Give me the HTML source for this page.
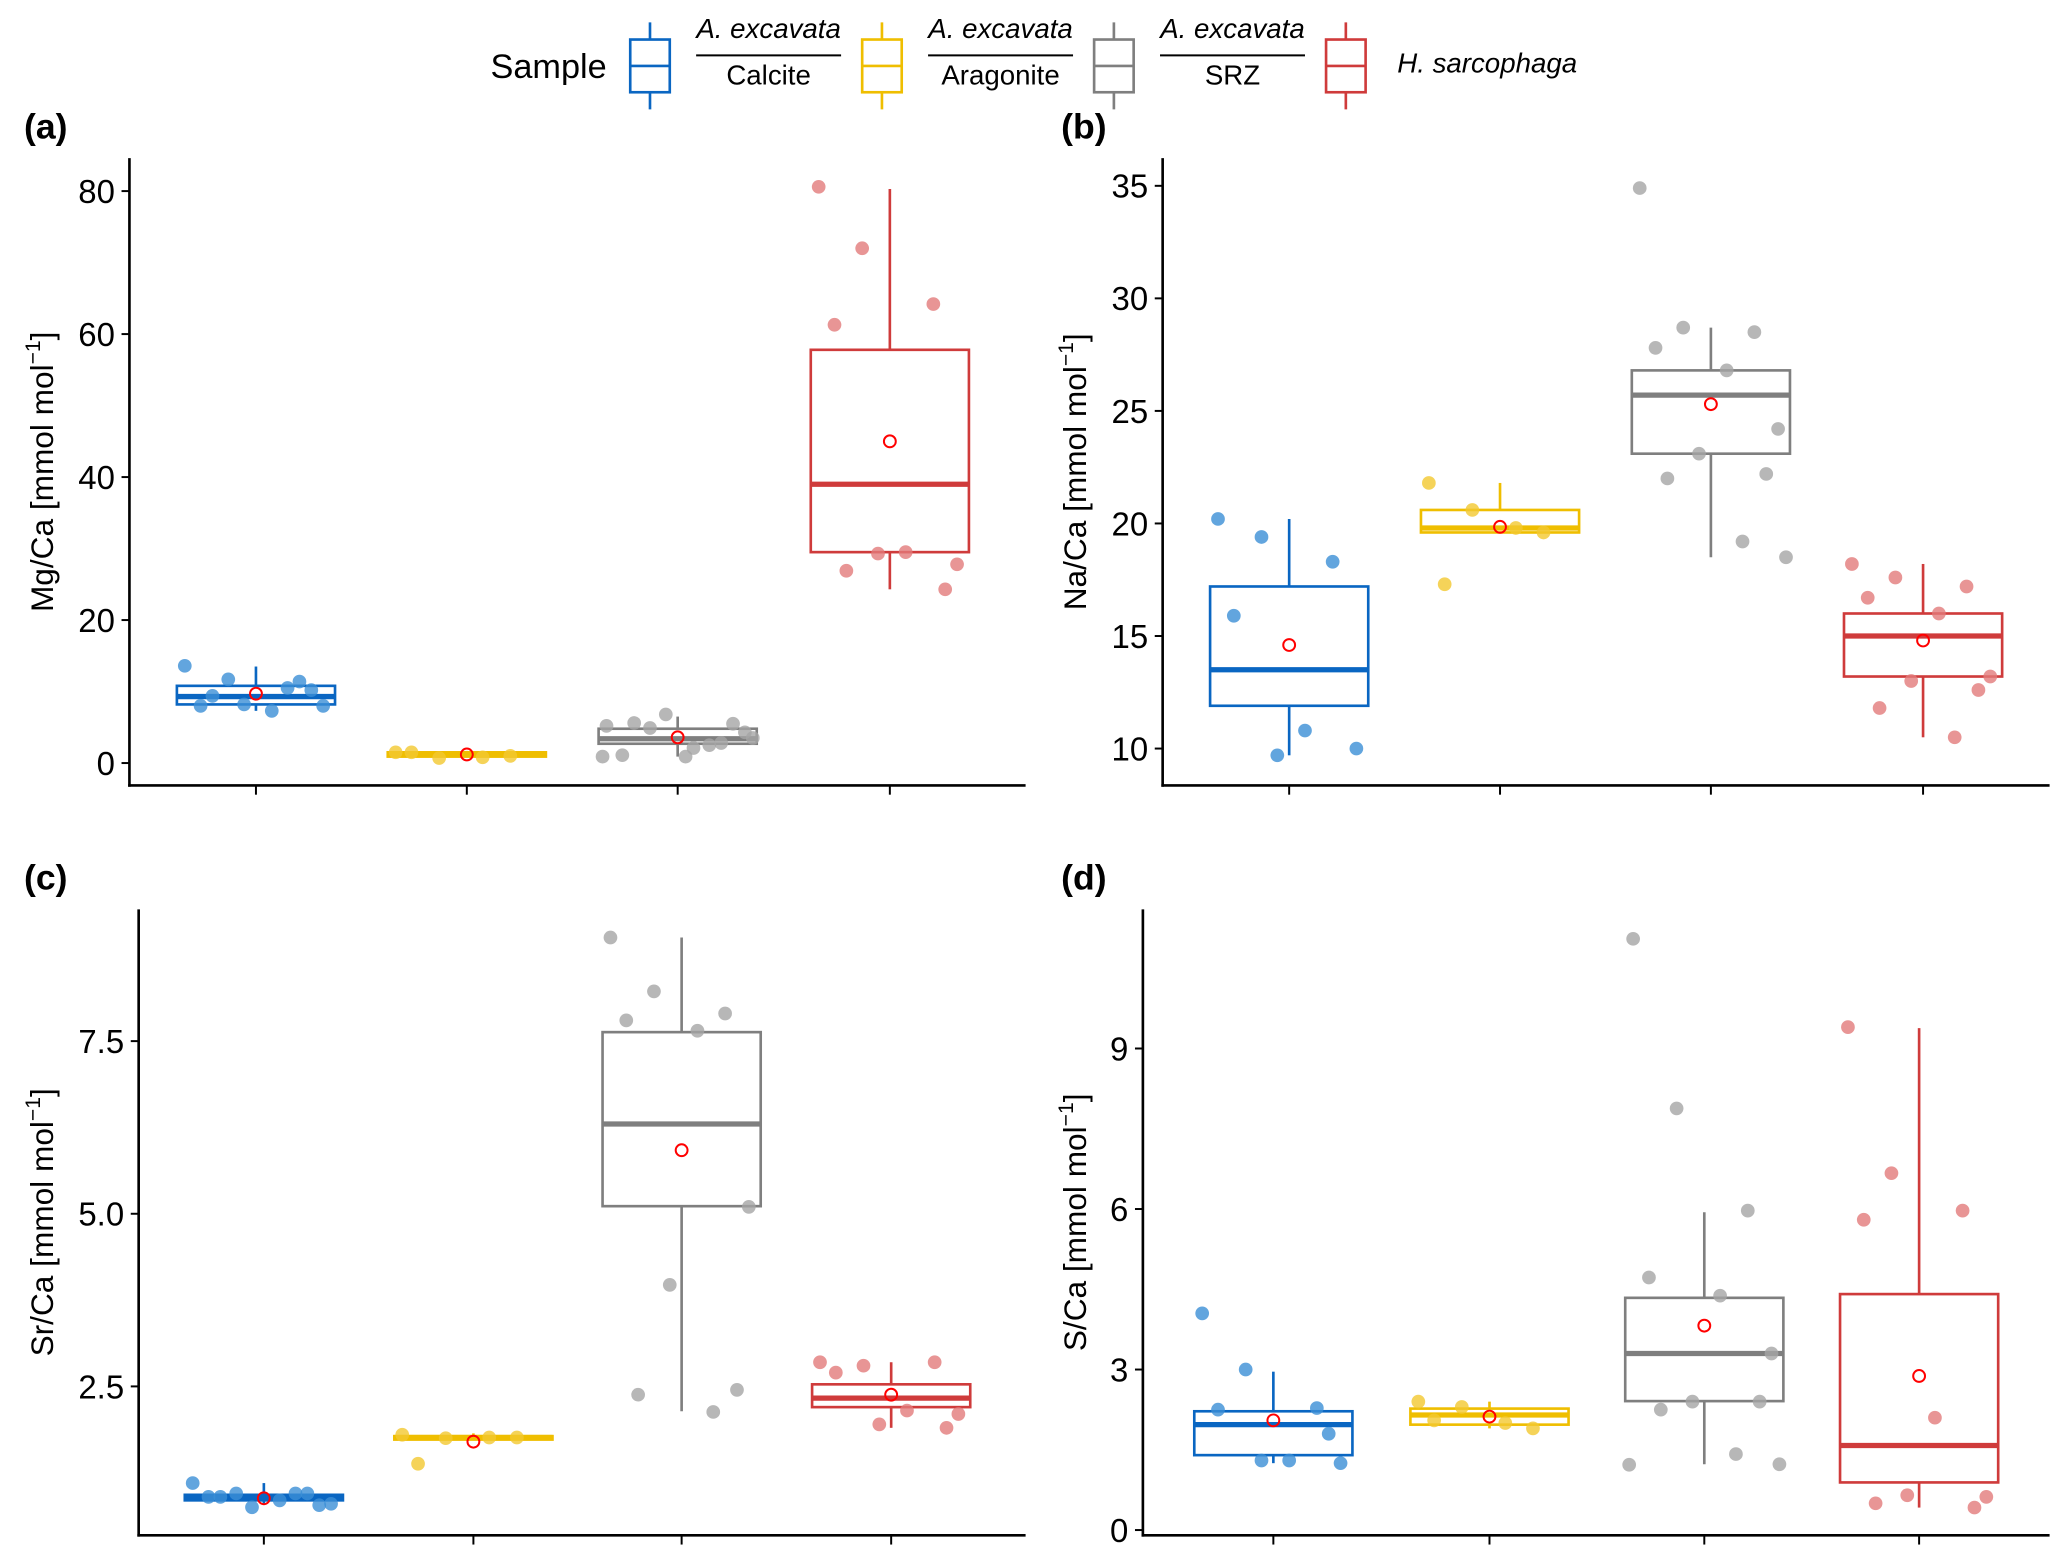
<!DOCTYPE html>
<html><head><meta charset="utf-8"><style>
html,body{margin:0;padding:0;background:#fff}
svg{display:block;font-family:"Liberation Sans",sans-serif}
</style></head><body>
<svg id="chart" width="2067" height="1563" viewBox="0 0 1568 1186" xmlns="http://www.w3.org/2000/svg">
<g id="legend">
<text x="372" y="59" font-size="26">Sample</text>
</g>
</svg>
<script>
const NS="http://www.w3.org/2000/svg";
const svg=document.getElementById('chart');
const colors=["#0a66c2","#efbe00","#7f7f7f","#cf3b3b"];
const ptColors=["#3b8fd6","#f3c830","#a5a5a5","#e27a7a"];
const categories=["A. excavata Calcite","A. excavata Aragonite","A. excavata SRZ","H. sarcophaga"];

// ---- (a) Mg/Ca ----
const mgTicks=[0,20,40,60,80];
const mgQ1=[8.2,0.9,2.7,29.5];
const mgMed=[9.3,1.2,3.4,39];
const mgQ3=[10.8,1.5,4.8,57.8];
const mgLo=[7.3,0.8,0.9,24.3];
const mgHi=[13.5,1.7,6.5,80.3];
const mgMean=[9.7,1.2,3.6,45];
const mgPts=[[13.6,11.7,11.4,8.0,7.3,8.0,8.2,10.2,9.4,10.5],[1.5,0.7,1.0,1.5,0.8],[5.2,4.9,2.8,1.1,2.1,4.3,6.8,5.5,5.6,2.5,3.5,0.9,0.9],[80.6,72,64.2,61.3,29.5,27.8,29.3,24.3,26.9]];
// ---- (b) Na/Ca ----
const naTicks=[10,15,20,25,30,35];
const naQ1=[11.9,19.6,23.1,13.2];
const naMed=[13.5,19.8,25.7,15.0];
const naQ3=[17.2,20.6,26.8,16.0];
const naLo=[9.7,19.6,18.5,10.5];
const naHi=[20.2,21.8,28.7,18.2];
const naMean=[14.6,19.85,25.3,14.8];
const naPts=[[20.2,19.4,18.3,15.9,10.8,10.0,9.7],[21.8,20.6,19.6,17.3,19.8],[34.9,28.7,28.5,27.8,26.8,24.2,23.1,22.2,22.0,19.2,18.5],[18.2,17.6,17.2,16.7,16.0,13.2,13.0,12.6,11.8,10.5]];
// ---- (c) Sr/Ca ----
const srTicks=[2.5,5.0,7.5];
const srTickLabels=["2.5","5.0","7.5"];
const srQ1=[0.85,1.73,5.11,2.2];
const srMed=[0.88,1.76,6.30,2.33];
const srQ3=[0.93,1.78,7.63,2.53];
const srLo=[0.8,1.73,2.14,1.9];
const srHi=[1.1,1.82,9.0,2.85];
const srMean=[0.88,1.7,5.92,2.38];
const srPts=[[1.1,0.95,0.95,0.9,0.85,0.8,0.75,0.78,0.9,0.95],[1.8,1.75,1.76,1.38,1.76],[9.0,8.22,7.9,7.8,7.65,5.1,3.97,2.45,2.38,2.13],[2.85,2.8,2.85,2.7,2.15,2.1,1.95,1.9]];
// ---- (d) S/Ca ----
const sTicks=[0,3,6,9];
const sQ1=[1.40,1.97,2.41,0.89];
const sMed=[1.97,2.15,3.30,1.58];
const sQ3=[2.22,2.27,4.34,4.41];
const sLo=[1.25,1.9,1.23,0.42];
const sHi=[2.96,2.4,5.94,9.38];
const sMean=[2.05,2.12,3.82,2.88];
const sPts=[[4.05,3.0,2.28,2.25,1.3,1.25,1.3,1.8],[2.4,2.3,1.9,2.05,2.0],[11.05,7.88,5.97,4.72,4.38,3.3,2.4,2.4,2.25,1.42,1.23,1.22],[9.4,6.67,5.97,5.8,2.1,0.62,0.65,0.42,0.5]];

const jitterPattern=[-0.9,-0.35,0.55,-0.7,0.2,0.85,-0.15,0.7,-0.55,0.4,0.95,-0.95,0.1];

function el(tag,attrs,parent){const e=document.createElementNS(NS,tag);for(const k in attrs)e.setAttribute(k,attrs[k]);(parent||svg).appendChild(e);return e;}

function panel(cfg){
  const g=el('g',{});
  
  
  const y=v=>cfg.y0-(v-cfg.v0)*cfg.k;
  const x=i=>cfg.xs[i];
  const ya=el('line',{x1:cfg.ax,y1:cfg.top,x2:cfg.ax,y2:cfg.bot+1,stroke:'#000','stroke-width':2},g);
  
  
  const xa=el('line',{x1:cfg.ax-1,y1:cfg.bot,x2:cfg.right,y2:cfg.bot,stroke:'#000','stroke-width':2},g);
  
  
  cfg.ticks.forEach((t,i)=>{
    el('line',{x1:cfg.ax-6,x2:cfg.ax,y1:y(t),y2:y(t),stroke:'#000','stroke-width':1.5},g);
    const tx=el('text',{x:cfg.ax-11,y:y(t)+9,'font-size':25,'text-anchor':'end'},g);
    tx.textContent=cfg.labels?cfg.labels[i]:String(t);
    
    
  });
  for(let i=0;i<4;i++) el('line',{x1:x(i),x2:x(i),y1:cfg.bot,y2:cfg.bot+7,stroke:'#000','stroke-width':1.5},g);
  const cy=(cfg.top+cfg.bot)/2;
  const tt=el('text',{x:0,y:0,'font-size':24,'text-anchor':'middle',transform:`translate(${cfg.titleX},${cy}) rotate(-90)`},g);
  tt.innerHTML=cfg.title+' [mmol mol<tspan dy="-10" font-size="16">−1</tspan><tspan dy="10">]</tspan>';
  
  
  const pl=el('text',{x:cfg.lx,y:cfg.ly,'font-size':27,'font-weight':'bold'},g);
  pl.textContent=cfg.letter;
  
  
  const hw=60;
  for(let i=0;i<4;i++){
    const c=colors[i];
    const bg=el('g',{},g);
    
    
    el('line',{x1:x(i),x2:x(i),y1:y(cfg.hi[i]),y2:y(cfg.q3[i]),stroke:c,'stroke-width':2},bg);
    el('line',{x1:x(i),x2:x(i),y1:y(cfg.q1[i]),y2:y(cfg.lo[i]),stroke:c,'stroke-width':2},bg);
    el('rect',{x:x(i)-hw,y:y(cfg.q3[i]),width:2*hw,height:Math.max(1,y(cfg.q1[i])-y(cfg.q3[i])),fill:'#fff',stroke:c,'stroke-width':2},bg);
    el('line',{x1:x(i)-hw,x2:x(i)+hw,y1:y(cfg.med[i]),y2:y(cfg.med[i]),stroke:c,'stroke-width':4},bg);
    cfg.pts[i].forEach((v,j)=>{
      const p=el('circle',{cx:x(i)+jitterPattern[j%jitterPattern.length]*hw,cy:y(v),r:5.2,fill:ptColors[i],'fill-opacity':0.8},bg);
      
      
    });
    const m=el('circle',{cx:x(i),cy:y(cfg.mean[i]),r:4.5,fill:'none',stroke:'#ff0000','stroke-width':1.5},bg);
    
    
  }
}
panel({name:'panel-a-mg-ca',letter:'(a)',lx:18,ly:105,title:'Mg/Ca',titleX:40,ax:98,top:120,bot:596,right:778,y0:579,v0:0,k:5.425,xs:[194,354,514,675],ticks:mgTicks,q1:mgQ1,med:mgMed,q3:mgQ3,lo:mgLo,hi:mgHi,mean:mgMean,pts:mgPts});
panel({name:'panel-b-na-ca',letter:'(b)',lx:805,ly:105,title:'Na/Ca',titleX:824,ax:882,top:120,bot:596,right:1555,y0:568,v0:10,k:17.08,xs:[978,1138,1298,1459],ticks:naTicks,q1:naQ1,med:naMed,q3:naQ3,lo:naLo,hi:naHi,mean:naMean,pts:naPts});
panel({name:'panel-c-sr-ca',letter:'(c)',lx:18,ly:675,title:'Sr/Ca',titleX:40,ax:105,top:690,bot:1165,right:778,y0:1183,v0:0,k:52.4,xs:[200,359,517,676],ticks:srTicks,labels:srTickLabels,q1:srQ1,med:srMed,q3:srQ3,lo:srLo,hi:srHi,mean:srMean,pts:srPts});
panel({name:'panel-d-s-ca',letter:'(d)',lx:805,ly:675,title:'S/Ca',titleX:824,ax:867,top:690,bot:1165,right:1555,y0:1161,v0:0,k:40.6,xs:[966,1130,1293,1456],ticks:sTicks,q1:sQ1,med:sMed,q3:sQ3,lo:sLo,hi:sHi,mean:sMean,pts:sPts});

const lg=document.getElementById('legend');
const keyX=[478,654,830,1006];
const labelX=[583,759,935,1060];
const tops=["A. excavata","A. excavata","A. excavata",null];
const bots=["Calcite","Aragonite","SRZ",null];
for(let i=0;i<4;i++){
  const k=el('g',{},lg);
  
  
  const cx=keyX[i]+15;
  el('line',{x1:cx,x2:cx,y1:17,y2:83,stroke:colors[i],'stroke-width':2},k);
  el('rect',{x:keyX[i],y:30,width:30,height:40,fill:'#fff',stroke:colors[i],'stroke-width':2},k);
  el('line',{x1:keyX[i],x2:keyX[i]+30,y1:50,y2:50,stroke:colors[i],'stroke-width':2},k);
  if(tops[i]){
    const t1=el('text',{x:labelX[i],y:29,'font-size':21,'font-style':'italic','text-anchor':'middle'},k);t1.textContent=tops[i];
    el('line',{x1:labelX[i]-55,x2:labelX[i]+55,y1:42,y2:42,stroke:'#000','stroke-width':1.5},k);
    const t2=el('text',{x:labelX[i],y:64,'font-size':21,'text-anchor':'middle'},k);t2.textContent=bots[i];
  } else {
    const t=el('text',{x:labelX[i],y:55,'font-size':21,'font-style':'italic'},k);t.textContent='H. sarcophaga';
  }
}
</script>
</body></html>
